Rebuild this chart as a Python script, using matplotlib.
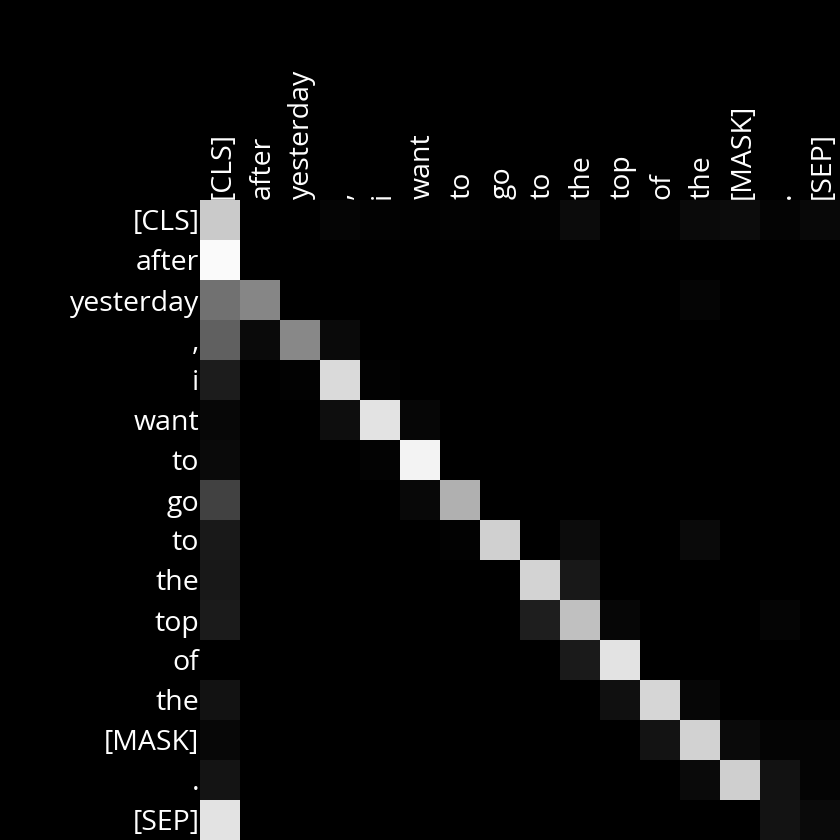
import numpy as np
import matplotlib
matplotlib.use("Agg")
import matplotlib.pyplot as plt

tokens = ["[CLS]", "after", "yesterday", ",", "i", "want", "to", "go",
          "to", "the", "top", "of", "the", "[MASK]", ".", "[SEP]"]

# attention weights (row = query token, col = key token)
row_cls = [202, 0, 0, 5, 2, 1, 2, 1, 2, 11, 0, 3, 10, 12, 4, 8]
row_after = [250, 0, 0, 0, 0, 0, 0, 0, 0, 0, 0, 0, 0, 0, 0, 0]
row_yesterday = [114, 134, 0, 0, 0, 0, 0, 0, 0, 0, 0, 0, 5, 0, 0, 0]
row_comma = [96, 10, 136, 10, 0, 0, 0, 0, 0, 0, 0, 0, 0, 0, 0, 0]
row_i = [28, 0, 2, 218, 2, 0, 0, 0, 0, 0, 0, 0, 0, 0, 0, 0]
row_want = [7, 0, 0, 14, 227, 6, 0, 0, 0, 0, 0, 0, 0, 0, 0, 0]
row_to1 = [10, 0, 0, 0, 3, 243, 0, 0, 0, 0, 0, 0, 0, 0, 0, 0]
row_go = [66, 0, 0, 0, 0, 8, 176, 0, 0, 0, 0, 0, 0, 0, 0, 0]
row_to2 = [25, 0, 0, 0, 0, 0, 2, 208, 0, 12, 0, 0, 10, 0, 0, 0]
row_the1 = [24, 0, 0, 0, 0, 0, 0, 0, 212, 24, 0, 0, 0, 0, 0, 0]
row_top = [27, 0, 0, 0, 0, 0, 0, 0, 30, 192, 6, 0, 0, 0, 5, 0]
row_of = [0, 0, 0, 0, 0, 0, 0, 0, 0, 26, 227, 0, 0, 0, 0, 0]
row_the2 = [18, 0, 0, 0, 0, 0, 0, 0, 0, 0, 16, 214, 6, 0, 0, 0]
row_mask = [7, 0, 0, 0, 0, 0, 0, 0, 0, 0, 0, 19, 210, 10, 4, 4]
row_period = [20, 0, 0, 0, 0, 0, 0, 0, 0, 0, 0, 0, 10, 207, 18, 4]
row_sep = [227, 0, 0, 0, 0, 0, 0, 0, 0, 0, 0, 0, 0, 0, 19, 10]

rows = [row_cls, row_after, row_yesterday, row_comma, row_i, row_want,
        row_to1, row_go, row_to2, row_the1, row_top, row_of, row_the2,
        row_mask, row_period, row_sep]
attn = np.array(rows, dtype=float) / 255.0

plt.rcParams['font.family'] = ['Open Sans', 'DejaVu Sans']

fig = plt.figure(figsize=(8.4, 8.4), dpi=100, facecolor='black')
ax = fig.add_axes([200/840, 0, 640/840, 640/840])
ax.set_facecolor('black')
ax.imshow(attn, cmap='gray', vmin=0, vmax=1, aspect='auto',
          interpolation='nearest', zorder=3)
n = len(tokens)
ax.set_xticks(np.arange(n) + 0.06)
ax.set_yticks(np.arange(n))
ax.set_xticklabels(tokens, rotation=90, color='white', fontsize=20.5)
ax.set_yticklabels(tokens, color='white', fontsize=20.5)
ax.xaxis.tick_top()
ax.tick_params(length=0, pad=0.5)
ax.set_xlim(-0.5, n - 0.5)
for s in ax.spines.values():
    s.set_visible(False)

fig.savefig("out.png", dpi=100, facecolor='black')
